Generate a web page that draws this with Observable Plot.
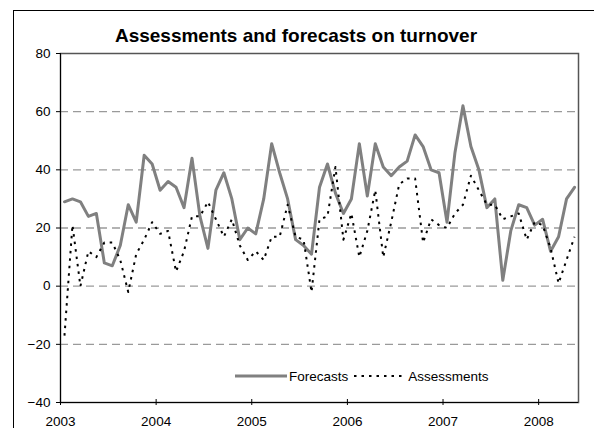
<!DOCTYPE html>
<html>
<head>
<meta charset="utf-8">
<script src="https://cdn.jsdelivr.net/npm/d3@7"></script>
<script src="https://cdn.jsdelivr.net/npm/@observablehq/plot@0.6"></script>
<style>
  body { margin: 0; background: #fff; }
  #chart { position: relative; width: 594px; height: 428px; overflow: hidden;
           font-family: Arial, "Liberation Sans", sans-serif; background: #fff; }
  #chart svg.plotsvg { position: absolute; left: 0; top: 0; }
  #border { position: absolute; left: 13px; top: 10px; width: 640px; height: 480px;
            border-left: 1px solid #000; border-top: 1px solid #000; pointer-events: none; }
  #title { position: absolute; left: 0; top: 25px; width: 592px; text-align: center;
           font-weight: bold; font-size: 19px; line-height: 22px; color: #000; }
  #legend { position: absolute; left: 235px; top: 367px; height: 18px; display: flex;
            align-items: center; font-size: 13.5px; color: #000; }
  #legend svg { display: block; }
  #legend span { margin: 0 6px 0 2px; }
</style>
</head>
<body>
<div id="chart">
  <div id="title">Assessments and forecasts on turnover</div>
  <div id="legend"></div>
  <div id="border"></div>
</div>
<script>
// Monthly series, January 2003 through May 2008
const startYear = 2003;
const forecasts = [
  29, 30, 29, 24, 25, 8, 7, 14, 28, 22, 45, 42,      // 2003
  33, 36, 34, 27, 44, 24, 13, 33, 39, 30, 16, 20,    // 2004
  18, 30, 49, 39, 30, 16, 14, 11, 34, 42, 32, 25,    // 2005
  30, 49, 31, 49, 41, 38, 41, 43, 52, 48, 40, 39,    // 2006
  22, 46, 62, 48, 40, 27, 30, 2, 19, 28, 27, 21,     // 2007
  23, 12, 17, 30, 34                                 // 2008
];
const assessments = [
  -17, 21, 0, 12, 10, 15, 15, 9, -2, 11, 16, 22,     // 2003
  18, 19, 5, 12, 24, 24, 29, 23, 17, 23, 14, 9,      // 2004
  12, 9, 17, 17, 28, 17, 16, -2, 23, 24, 41, 16,     // 2005
  25, 10, 19, 33, 10, 22, 35, 37, 37, 15, 23, 21,    // 2006
  20, 25, 28, 38, 33, 28, 28, 23, 24, 25, 16, 22,    // 2007
  21, 13, 1, 9, 17                                   // 2008
];
const yearLabels = [2003, 2004, 2005, 2006, 2007, 2008];
const yTicks = [-40, -20, 0, 20, 40, 60, 80];
const gridValues = [-20, 0, 20, 40, 60];
const seriesNames = ["Forecasts", "Assessments"];

// Each month sits in the middle of its slot on the month axis
const rows = forecasts.map((f, i) => ({ t: i + 0.5, f, a: assessments[i] }));

const fcStyle = { stroke: "#808080", strokeWidth: 3, strokeLinejoin: "round" };
const asStyle = { stroke: "#000", strokeWidth: 2, strokeDasharray: "2.5,5", strokeLinecap: "butt" };

const plot = Plot.plot({
  width: 594,
  height: 428,
  marginLeft: 60,
  marginRight: 16,
  marginTop: 53,
  marginBottom: 26,
  style: { fontFamily: 'Arial, "Liberation Sans", sans-serif', fontSize: "13.5px",
           background: "transparent", color: "#000" },
  x: { domain: [0, forecasts.length] },
  y: { domain: [yTicks[0], yTicks[yTicks.length - 1]] },
  marks: [
    Plot.ruleY(gridValues, { stroke: "#9a9a9a", strokeWidth: 1.3, strokeDasharray: "8,5" }),
    Plot.frame({ stroke: "#555", strokeWidth: 1.5 }),
    Plot.line(rows, { x: "t", y: "f", ...fcStyle }),
    Plot.line(rows, { x: "t", y: "a", ...asStyle }),
    Plot.ruleX([0], { stroke: "#000", strokeWidth: 1 }),
    Plot.ruleY([yTicks[0]], { stroke: "#000", strokeWidth: 1 }),
    Plot.axisY({ ticks: yTicks, tickSize: 4, tickPadding: 6, label: null, anchor: "left" }),
    Plot.axisX({
      ticks: yearLabels.map(y => (y - startYear) * 12),
      tickFormat: d => String(startYear + d / 12),
      tickSize: 6, dy: -3, tickPadding: 11, label: null, anchor: "bottom"
    })
  ]
});
plot.classList.add("plotsvg");
document.getElementById("chart").prepend(plot);

// Legend: line swatch followed by series name
const legend = document.getElementById("legend");
[fcStyle, asStyle].forEach((s, i) => {
  const ns = "http://www.w3.org/2000/svg";
  const svg = document.createElementNS(ns, "svg");
  svg.setAttribute("width", 52);
  svg.setAttribute("height", 10);
  const ln = document.createElementNS(ns, "line");
  ln.setAttribute("x1", 0); ln.setAttribute("x2", 52);
  ln.setAttribute("y1", 5); ln.setAttribute("y2", 5);
  ln.setAttribute("stroke", s.stroke);
  ln.setAttribute("stroke-width", s.strokeWidth);
  if (s.strokeDasharray) ln.setAttribute("stroke-dasharray", s.strokeDasharray);
  svg.appendChild(ln);
  legend.appendChild(svg);
  const label = document.createElement("span");
  label.textContent = seriesNames[i];
  legend.appendChild(label);
});
</script>
</body>
</html>
